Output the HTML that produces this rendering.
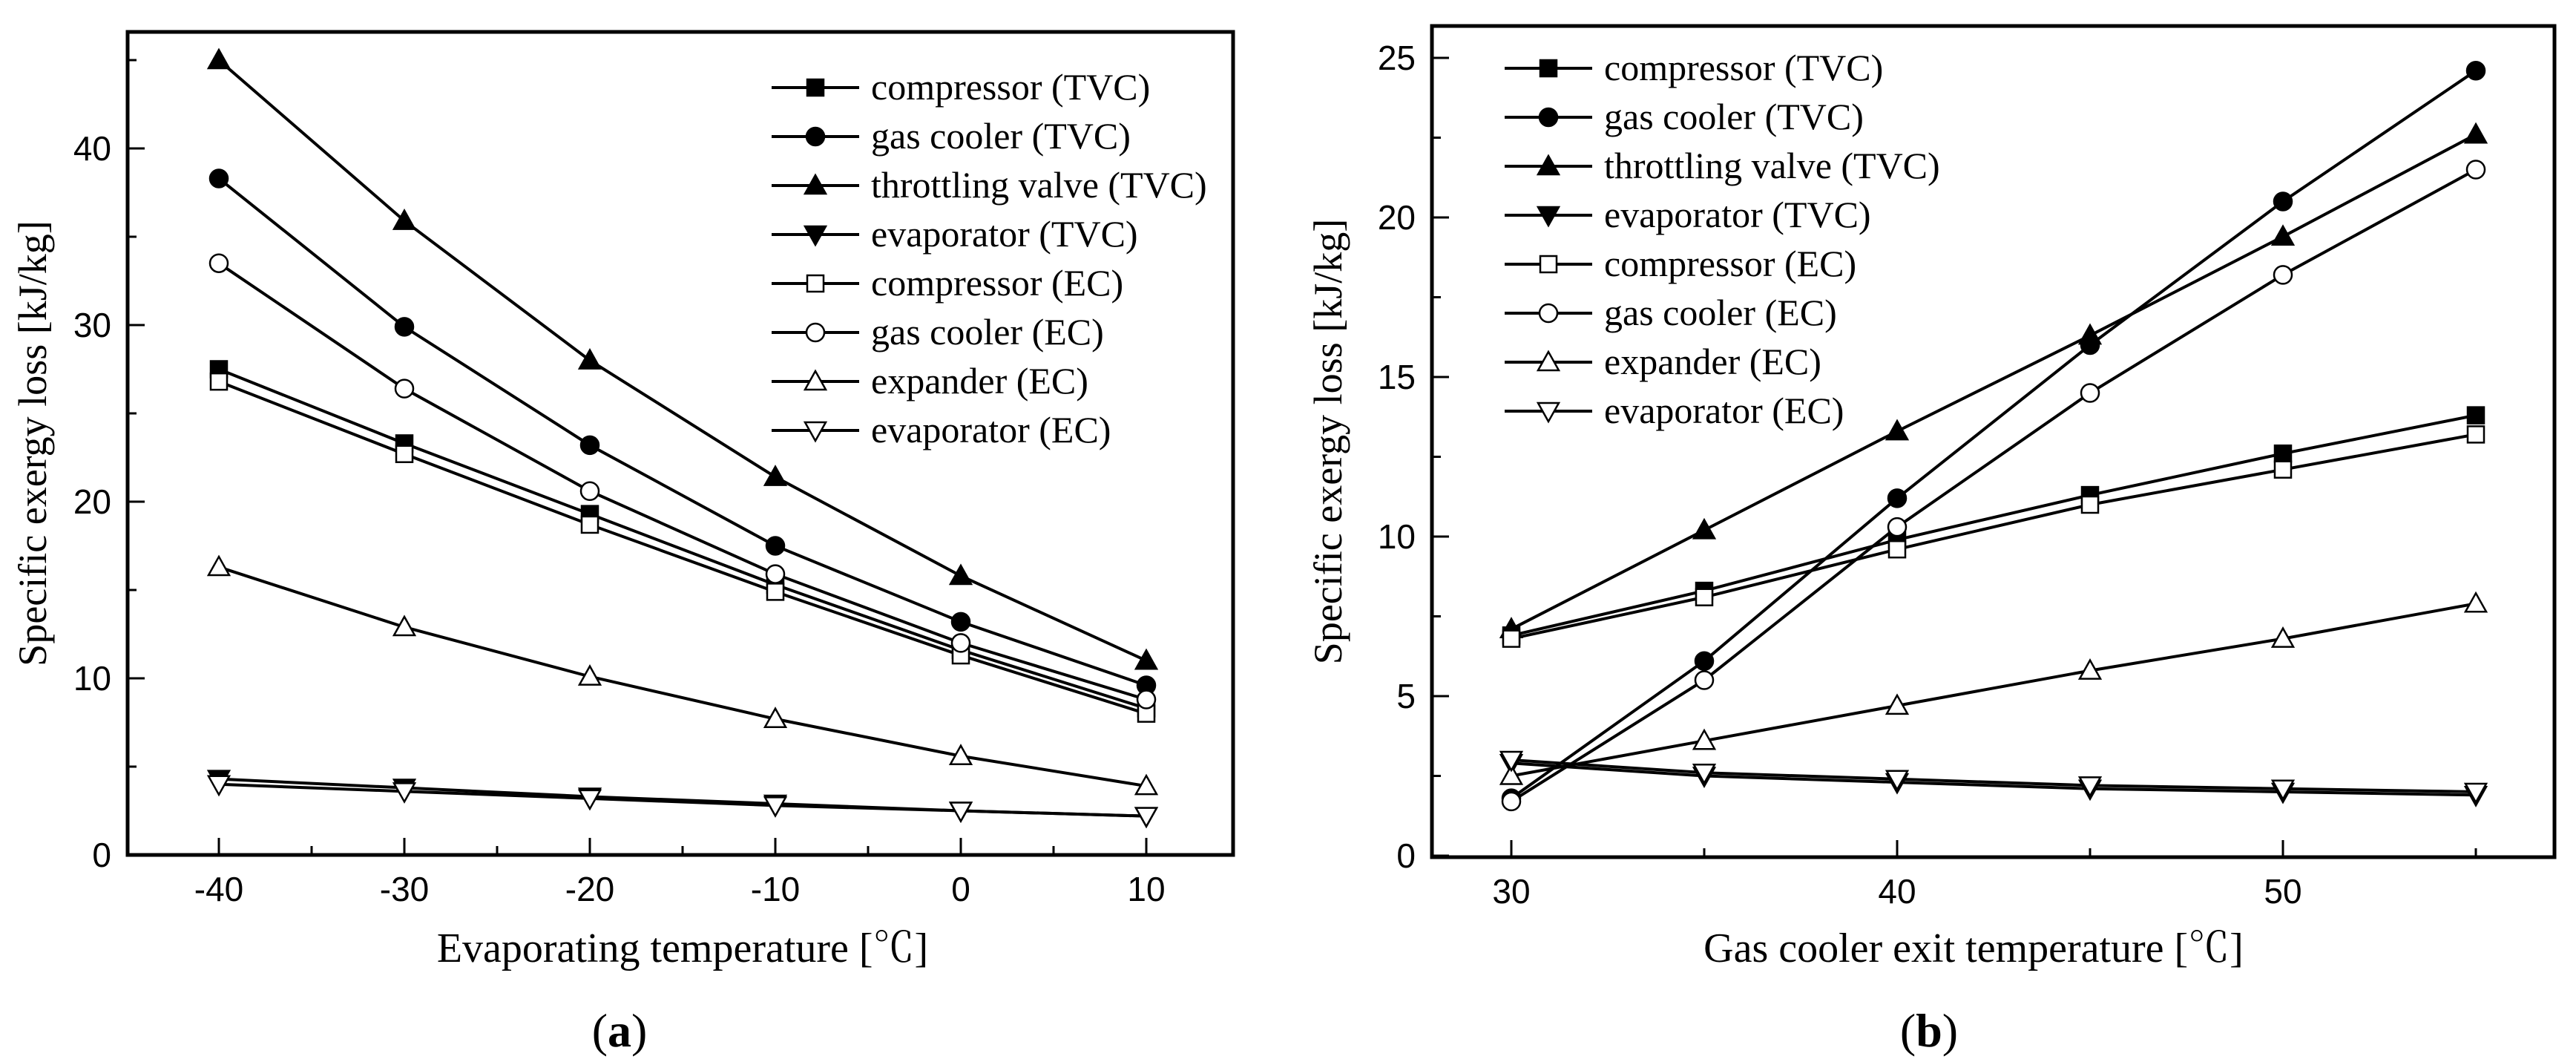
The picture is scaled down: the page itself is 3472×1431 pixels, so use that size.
<!DOCTYPE html>
<html><head><meta charset="utf-8"><style>
html,body{margin:0;padding:0;background:#fff}
svg{display:block}
text{fill:#000}
</style></head><body>
<svg id="svg" width="3472" height="1431" viewBox="0 0 3472 1431" xmlns="http://www.w3.org/2000/svg"></svg>
<script>
const seriesNames = ["compressor (TVC)","gas cooler (TVC)","throttling valve (TVC)","evaporator (TVC)","compressor (EC)","gas cooler (EC)","expander (EC)","evaporator (EC)"];
const seriesKeys = ["comp-tvc","gc-tvc","tv-tvc","evap-tvc","comp-ec","gc-ec","exp-ec","evap-ec"];
const markerTypes = ["sq","ci","up","dn","sq","ci","up","dn"];
const markerFilled = [true,true,true,true,false,false,false,false];

const aX = [-40,-30,-20,-10,0,10];
const aCompTVC = [27.5,23.3,19.3,15.3,11.6,8.3];
const aGcTVC = [38.3,29.9,23.2,17.5,13.2,9.6];
const aTvTVC = [45.0,35.9,28.0,21.4,15.8,11.0];
const aEvapTVC = [4.3,3.8,3.3,2.9,2.5,2.2];
const aCompEC = [26.8,22.7,18.7,14.9,11.3,8.0];
const aGcEC = [33.5,26.4,20.6,15.9,12.0,8.8];
const aExpEC = [16.3,12.9,10.1,7.7,5.6,3.9];
const aEvapEC = [4.0,3.6,3.2,2.8,2.5,2.2];
const aXTicks = [-40,-30,-20,-10,0,10];
const aYTicks = [0,10,20,30,40];

const bX = [30,35,40,45,50,55];
const bCompTVC = [6.9,8.3,9.9,11.3,12.6,13.8];
const bGcTVC = [1.8,6.1,11.2,16.0,20.5,24.6];
const bTvTVC = [7.1,10.2,13.3,16.3,19.4,22.6];
const bEvapTVC = [2.9,2.5,2.3,2.1,2.0,1.9];
const bCompEC = [6.8,8.1,9.6,11.0,12.1,13.2];
const bGcEC = [1.7,5.5,10.3,14.5,18.2,21.5];
const bExpEC = [2.5,3.6,4.7,5.8,6.8,7.9];
const bEvapEC = [3.0,2.6,2.4,2.2,2.1,2.0];
const bXTicks = [30,40,50];
const bYTicks = [0,5,10,15,20,25];

const NS="http://www.w3.org/2000/svg";
const svg=document.getElementById('svg');
function mk(tag,attrs,parent){const e=document.createElementNS(NS,tag);for(const k in attrs)e.setAttribute(k,attrs[k]);(parent||svg).appendChild(e);return e;}

function marker(g,type,filled,cx,cy){
  const fill=filled?'#000':'#fff';let e;
  if(type==='sq'){e=mk('rect',{x:cx-11,y:cy-11,width:22,height:22,fill:fill,stroke:'#000','stroke-width':2.5},g);}
  else if(type==='ci'){e=mk('circle',{cx:cx,cy:cy,r:12,fill:fill,stroke:'#000','stroke-width':2.5},g);}
  else if(type==='up'){e=mk('polygon',{points:`${cx},${cy-14} ${cx-14},${cy+11} ${cx+14},${cy+11}`,fill:fill,stroke:'#000','stroke-width':2.5},g);}
  else {e=mk('polygon',{points:`${cx},${cy+14} ${cx-14},${cy-11} ${cx+14},${cy-11}`,fill:fill,stroke:'#000','stroke-width':2.5},g);}
  
  
}

function panel(cfg){
  const g=mk('g',{});
  
  
  const sx=v=>cfg.x0px+(v-cfg.x0v)*cfg.xs;
  const sy=v=>cfg.y0px-(v-cfg.y0v)*cfg.ys;
  cfg.xMinor.forEach(v=>{const t=mk('line',{x1:sx(v),x2:sx(v),y1:cfg.B,y2:cfg.B-12,stroke:'#000','stroke-width':3},g);});
  cfg.xTicks.forEach(v=>{const t=mk('line',{x1:sx(v),x2:sx(v),y1:cfg.B,y2:cfg.B-23,stroke:'#000','stroke-width':3},g);
    const l=mk('text',{x:sx(v),y:cfg.B+62,'text-anchor':'middle','font-family':'Liberation Sans, sans-serif','font-size':46},g);l.textContent=v;});
  cfg.yMinor.forEach(v=>{const t=mk('line',{x1:cfg.L,x2:cfg.L+12,y1:sy(v),y2:sy(v),stroke:'#000','stroke-width':3},g);});
  cfg.yTicks.forEach(v=>{const t=mk('line',{x1:cfg.L,x2:cfg.L+23,y1:sy(v),y2:sy(v),stroke:'#000','stroke-width':3},g);
    const l=mk('text',{x:cfg.L-22,y:sy(v)+16,'text-anchor':'end','font-family':'Liberation Sans, sans-serif','font-size':46},g);l.textContent=v;});
  cfg.series.forEach((ys,i)=>{
    const sg=mk('g',{},g);
    
    
    const pts=ys.map((y,j)=>sx(cfg.xs_data[j])+','+sy(y)).join(' ');
    const pl=mk('polyline',{points:pts,fill:'none',stroke:'#000','stroke-width':4},sg);
    
    
  });
  cfg.series.forEach((ys,i)=>{ys.forEach((y,j)=>marker(g,markerTypes[i],markerFilled[i],sx(cfg.xs_data[j]),sy(y)));});
  const fr=mk('rect',{x:cfg.L,y:cfg.T,width:cfg.R-cfg.L,height:cfg.B-cfg.T,fill:'none',stroke:'#000','stroke-width':5},g);
  
  const lg=mk('g',{},g);
  
  
  seriesNames.forEach((n,i)=>{
    const y=cfg.legY+i*66;
    const e=mk('g',{},lg);
    
    
    mk('line',{x1:cfg.legX,x2:cfg.legX+118,y1:y,y2:y,stroke:'#000','stroke-width':4},e);
    marker(e,markerTypes[i],markerFilled[i],cfg.legX+59,y);
    const t=mk('text',{x:cfg.legX+134,y:y+16,'font-family':'Liberation Serif, serif','font-size':50},e);t.textContent=n;
  });
  const xt=mk('text',{x:cfg.xtX,y:1296,'text-anchor':'middle','font-family':'Liberation Serif, \'Noto Serif CJK SC\', serif','font-size':56},g);
  xt.textContent=cfg.xtitle;
  const yt=mk('text',{x:0,y:0,'text-anchor':'middle','font-family':'Liberation Serif, serif','font-size':54,transform:`translate(${cfg.ytX},${(cfg.T+cfg.B)/2}) rotate(-90)`},g);
  yt.textContent='Specific exergy loss [kJ/kg]';
  const cap=mk('text',{x:cfg.capX,y:1410,'text-anchor':'middle','font-family':'Liberation Serif, serif','font-size':64},g);
  
  cap.innerHTML='(<tspan font-weight="bold">'+cfg.cap+'</tspan>)';
}

panel({name:'panel-a',L:172,R:1662,T:43,B:1152,x0px:295,x0v:-40,xs:25,y0px:1152,y0v:0,ys:23.8,
  xTicks:aXTicks,xMinor:[-35,-25,-15,-5,5],yTicks:aYTicks,yMinor:[5,15,25,35,45],
  xs_data:aX,series:[aCompTVC,aGcTVC,aTvTVC,aEvapTVC,aCompEC,aGcEC,aExpEC,aEvapEC],
  legX:1040,legY:118,xtitle:'Evaporating temperature  [\u2103]',xtX:920,ytX:62,capX:835,cap:'a'});
panel({name:'panel-b',L:1930,R:3443,T:35,B:1155,x0px:2037,x0v:30,xs:52,y0px:1153,y0v:0,ys:43,
  xTicks:bXTicks,xMinor:[35,45,55],yTicks:bYTicks,yMinor:[2.5,7.5,12.5,17.5,22.5],
  xs_data:bX,series:[bCompTVC,bGcTVC,bTvTVC,bEvapTVC,bCompEC,bGcEC,bExpEC,bEvapEC],
  legX:2028,legY:92,xtitle:'Gas cooler exit temperature  [\u2103]',xtX:2660,ytX:1808,capX:2600,cap:'b'});
</script>
</body></html>
